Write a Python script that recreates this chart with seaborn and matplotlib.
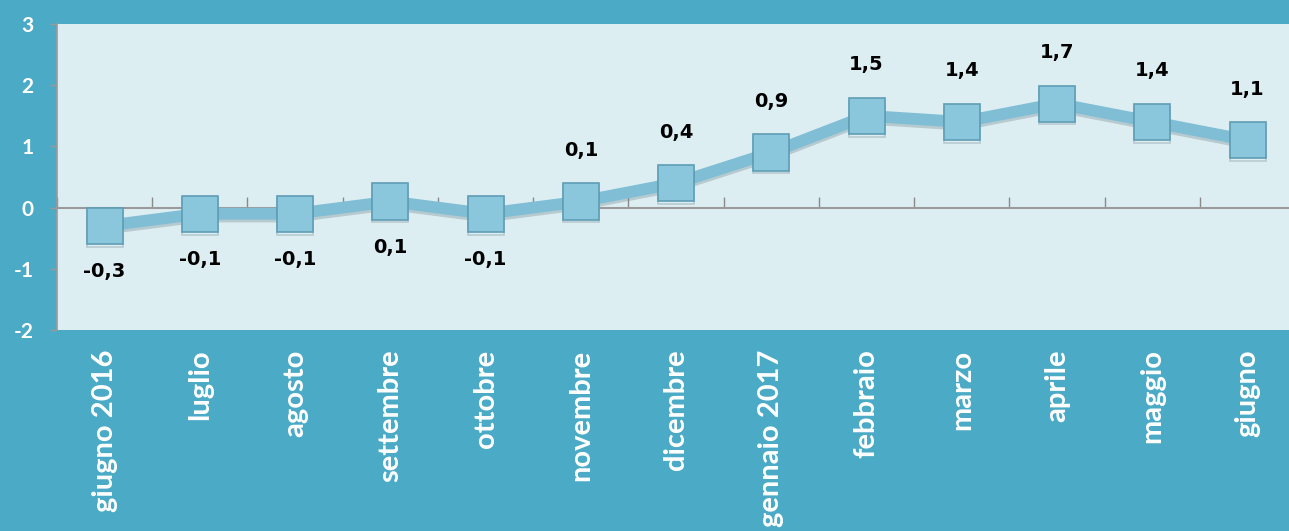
import numpy as np
import pandas as pd
import matplotlib
matplotlib.use("Agg")
import matplotlib.pyplot as plt
import matplotlib.patheffects as pe
import seaborn as sns

months = ['giugno 2016', 'luglio', 'agosto', 'settembre', 'ottobre', 'novembre',
          'dicembre', 'gennaio 2017', 'febbraio', 'marzo', 'aprile', 'maggio', 'giugno']
values = [-0.3, -0.1, -0.1, 0.1, -0.1, 0.1, 0.4, 0.9, 1.5, 1.4, 1.7, 1.4, 1.1]
labels = ['-0,3', '-0,1', '-0,1', '0,1', '-0,1', '0,1', '0,4', '0,9', '1,5', '1,4', '1,7', '1,4', '1,1']
label_below = [True, True, True, True, True, False, False, False, False, False, False, False, False]
yticks = [-2, -1, 0, 1, 2, 3]

df = pd.DataFrame({'pos': range(len(months)), 'val': values})

sns.set_style("white")
plt.rcParams['font.family'] = ['Lato', 'DejaVu Sans']

outer = '#4BAAC6'
inner = '#DDEEF3'

fig = plt.figure(figsize=(12.89, 5.31), dpi=100, facecolor=outer)
ax = fig.add_axes([0.0442, 0.3785, 0.9606, 0.5763])
ax.set_facecolor(inner)

sns.lineplot(data=df, x='pos', y='val', ax=ax, color='#80BED5', linewidth=8.5,
             marker='s', markersize=26, markerfacecolor='#8AC7DC',
             markeredgecolor='#5E9DB5', markeredgewidth=1.2, zorder=3,
             path_effects=[pe.SimpleLineShadow(offset=(0, -2), shadow_color='#6f8790', alpha=0.35), pe.Normal()])

for i, (v, t, b) in enumerate(zip(values, labels, label_below)):
    off = -46 if b else 51
    ax.annotate(t, (i, v), xytext=(0, off), textcoords='offset pixels',
                ha='center', va='center', fontsize=14, fontweight='bold',
                family='DejaVu Sans', color='black')

ax.set_xlim(-0.5, len(months) - 0.5)
ax.set_ylim(-2, 3)
ax.set_yticks(yticks)
ax.set_yticklabels([str(y) for y in yticks])
ax.set_xticks(range(len(months)))
ax.set_xticklabels(months, rotation=90, va='top', ha='center')
ax.set_xlabel('')
ax.set_ylabel('')

for lab in ax.get_xticklabels():
    lab.set_fontsize(21)
    lab.set_fontweight('bold')
    lab.set_color('white')
for lab in ax.get_yticklabels():
    lab.set_fontsize(15)
    lab.set_fontweight('bold')
    lab.set_color('white')

ax.tick_params(axis='x', length=0, pad=14)
ax.tick_params(axis='y', length=5, width=1, color='#9a9a9a', direction='out', pad=12, left=True)

for s in ['top', 'right', 'bottom']:
    ax.spines[s].set_visible(False)
ax.spines['left'].set_color('#9a9a9a')
ax.spines['left'].set_linewidth(1.2)

# zero axis with tick marks between categories
sec = ax.secondary_xaxis(0.4)
sec.set_xticks(np.arange(len(months) + 1) - 0.5)
sec.set_xticklabels([])
sec.tick_params(axis='x', direction='in', length=8, width=1, color='#8a8a8a')
sec.spines['bottom'].set_color('#9a9a9a')
sec.spines['bottom'].set_linewidth(1.5)

fig.savefig('out.png', dpi=100, facecolor=outer)
